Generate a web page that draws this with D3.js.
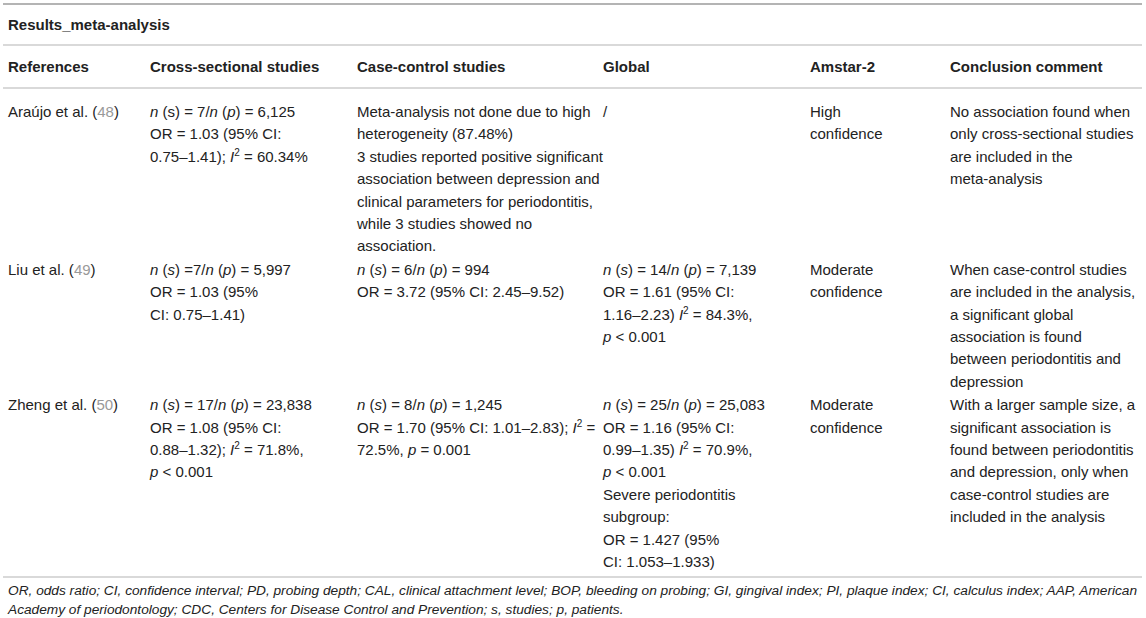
<!DOCTYPE html>
<html>
<head>
<meta charset="utf-8">
<script src="https://cdn.jsdelivr.net/npm/d3@7"></script>
<style>
  body { margin: 0; background: white; }
  svg { display: block; font-family: "Liberation Sans", Arial, sans-serif; }
</style>
</head>
<body>
<script>
// Table content. Markup inside strings: _x_ italic, ^x^ superscript, {x} grey citation link
const title = "Results_meta-analysis";
const columns = ["References", "Cross-sectional studies", "Case-control studies", "Global", "Amstar-2", "Conclusion comment"];

const references = ["Araújo et al. ({48})", "Liu et al. ({49})", "Zheng et al. ({50})"];

const crossSectional = [
    ["_n_ (s) = 7/_n_ (_p_) = 6,125", "OR = 1.03 (95% CI:", "0.75–1.41); _I_^2^ = 60.34%"],
    ["_n_ (_s_) =7/_n_ (_p_) = 5,997", "OR = 1.03 (95%", "CI: 0.75–1.41)"],
    ["_n_ (_s_) = 17/_n_ (_p_) = 23,838", "OR = 1.08 (95% CI:", "0.88–1.32); _I_^2^ = 71.8%,", "_p_ < 0.001"]
];

const caseControl = [
    ["Meta-analysis not done due to high", "heterogeneity (87.48%)", "3 studies reported positive significant",
     "association between depression and", "clinical parameters for periodontitis,", "while 3 studies showed no", "association."],
    ["_n_ (_s_) = 6/_n_ (_p_) = 994", "OR = 3.72 (95% CI: 2.45–9.52)"],
    ["_n_ (_s_) = 8/_n_ (_p_) = 1,245", "OR = 1.70 (95% CI: 1.01–2.83); _I_^2^ =", "72.5%, _p_ = 0.001"]
];

const globalResults = [
    ["/"],
    ["_n_ (_s_) = 14/_n_ (_p_) = 7,139", "OR = 1.61 (95% CI:", "1.16–2.23) _I_^2^ = 84.3%,", "_p_ < 0.001"],
    ["_n_ (_s_) = 25/_n_ (_p_) = 25,083", "OR = 1.16 (95% CI:", "0.99–1.35) _I_^2^ = 70.9%,", "_p_ < 0.001",
     "Severe periodontitis", "subgroup:", "OR = 1.427 (95%", "CI: 1.053–1.933)"]
];

const amstar = [
    ["High", "confidence"],
    ["Moderate", "confidence"],
    ["Moderate", "confidence"]
];

const conclusions = [
    ["No association found when", "only cross-sectional studies", "are included in the", "meta-analysis"],
    ["When case-control studies", "are included in the analysis,", "a significant global", "association is found",
     "between periodontitis and", "depression"],
    ["With a larger sample size, a", "significant association is", "found between periodontitis",
     "and depression, only when", "case-control studies are", "included in the analysis"]
];

const footnote = [
    "OR, odds ratio; CI, confidence interval; PD, probing depth; CAL, clinical attachment level; BOP, bleeding on probing; GI, gingival index; PI, plaque index; CI, calculus index; AAP, American",
    "Academy of periodontology; CDC, Centers for Disease Control and Prevention; s, studies; p, patients."
];

// Layout
const outerWidth = 1146, outerHeight = 618;
const colX = [8, 150, 357, 603, 810, 950];
const lineH = 22.4;
const fontSize = 15;
const textColor = "#222";
const ruleColor = "#b4b4b4";

const svg = d3.select("body").append("svg")
    .attr("width", outerWidth)
    .attr("height", outerHeight);

// Rows as list of cells
const rows = references.map((r, i) => [
    [r], crossSectional[i], caseControl[i], globalResults[i], amstar[i], conclusions[i]
]);

// Write one line with inline markup into a text element
function writeRich(textSel, str) {
    const parts = str.split(/(_[^_]+_|\^[^^]+\^|\{[^}]+\})/).filter(s => s.length);
    let shift = 0;
    parts.forEach(p => {
        let span;
        if (p[0] === "_") {
            span = textSel.append("tspan").style("font-style", "italic").text(p.slice(1, -1));
        } else if (p[0] === "^") {
            span = textSel.append("tspan").style("font-size", "10px").text(p.slice(1, -1));
        } else if (p[0] === "{") {
            span = textSel.append("tspan").attr("fill", "#999").text(p.slice(1, -1));
        } else {
            span = textSel.append("tspan").text(p);
        }
        // superscript raise, then drop back for the following part
        if (p[0] === "^") {
            span.attr("dy", -6);
            shift = 6;
        } else if (shift) {
            span.attr("dy", shift);
            shift = 0;
        }
    });
}

// Rules
const rules = [4, 45, 88];
const firstRowY = 117;  // baseline of first body line
const rowGap = 1;
let rowStarts = [];
let y = firstRowY;
rows.forEach(r => {
    rowStarts.push(y);
    const n = d3.max(r, c => c.length);
    y += n * lineH + rowGap;
});
const bottomRule = y - lineH + 9;
rules.push(bottomRule);

svg.selectAll(".rule")
    .data(rules)
    .join("line")
    .attr("class", "rule")
    .attr("x1", 3).attr("x2", 1142)
    .attr("y1", d => d).attr("y2", d => d)
    .attr("stroke", ruleColor)
    .attr("stroke-width", (d, i) => i === 0 ? 2 : 1.2);

// Title
svg.append("text")
    .attr("x", colX[0]).attr("y", 30)
    .attr("font-size", fontSize)
    .attr("font-weight", "bold")
    .attr("fill", textColor)
    .text(title);

// Header
svg.selectAll(".header")
    .data(columns)
    .join("text")
    .attr("class", "header")
    .attr("x", (d, i) => colX[i])
    .attr("y", 72)
    .attr("font-size", fontSize)
    .attr("font-weight", "bold")
    .attr("fill", textColor)
    .text(d => d);

// Body cells
rows.forEach((r, ri) => {
    r.forEach((cell, ci) => {
        cell.forEach((line, li) => {
            const t = svg.append("text")
                .attr("x", colX[ci])
                .attr("y", rowStarts[ri] + li * lineH)
                .attr("font-size", fontSize)
                .attr("fill", textColor);
            writeRich(t, line);
        });
    });
});

// Footnote
svg.selectAll(".foot")
    .data(footnote)
    .join("text")
    .attr("class", "foot")
    .attr("x", colX[0])
    .attr("y", (d, i) => bottomRule + 18 + i * 19)
    .attr("font-size", 13.7)
    .attr("font-style", "italic")
    .attr("fill", textColor)
    .text(d => d);
</script>
</body>
</html>
